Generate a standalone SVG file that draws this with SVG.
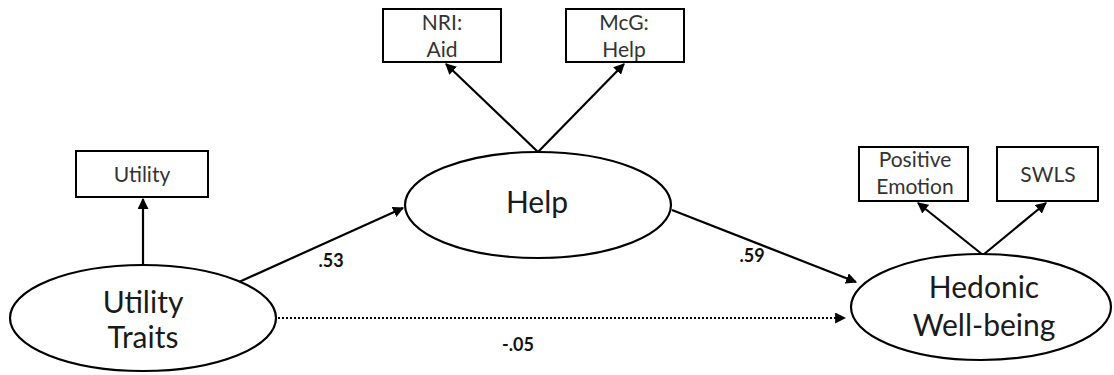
<svg xmlns="http://www.w3.org/2000/svg" width="1114" height="375" viewBox="0 0 1114 375">
<style>
.box{fill:#fff;stroke:#000;stroke-width:2}
.ell{fill:#fff;stroke:#000;stroke-width:2.2}
.ln{stroke:#000;stroke-width:2.2;fill:none}
.dot{stroke:#000;stroke-width:2.2;fill:none;stroke-dasharray:2 2}
.s{font-family:Lato,"Open Sans",sans-serif;font-size:21px;fill:#333;text-anchor:middle}
.l{font-family:Lato,"Open Sans",sans-serif;font-size:30px;fill:#1a1a1a;text-anchor:middle}
.c{font-family:Lato,"Liberation Sans",sans-serif;font-size:18px;font-weight:bold;fill:#111;text-anchor:middle}
</style>
<defs>
<marker id="ah" viewBox="0 0 10 10" refX="9" refY="5" markerWidth="5" markerHeight="5" orient="auto" markerUnits="strokeWidth">
<path d="M0,0 L10,5 L0,10 z" fill="#000"/>
</marker>
</defs>
<rect width="1114" height="375" fill="#fff"/>
<g id="connectors">
<line class="ln" x1="143" y1="265" x2="143" y2="199" marker-end="url(#ah)"/>
<line class="ln" x1="538" y1="152" x2="446" y2="64" marker-end="url(#ah)"/>
<line class="ln" x1="538" y1="152" x2="624" y2="64" marker-end="url(#ah)"/>
<line class="ln" x1="983" y1="255" x2="918" y2="203" marker-end="url(#ah)"/>
<line class="ln" x1="983" y1="255" x2="1046" y2="203" marker-end="url(#ah)"/>
<line class="ln" x1="239" y1="282" x2="403" y2="208" marker-end="url(#ah)"/>
<line class="ln" x1="672" y1="210" x2="856" y2="282" marker-end="url(#ah)"/>
<line class="dot" x1="278" y1="318" x2="845" y2="318" marker-end="url(#ah)"/>
<text class="c" x="331" y="267">.53</text>
<text class="c" x="752" y="262">.59</text>
<text class="c" x="518" y="351">-.05</text>
</g>
<g id="utility-box">
<rect class="box" x="76" y="151" width="132" height="46"/>
<text class="s" x="142" y="182">Utility</text>
</g>
<g id="utility-traits">
<ellipse class="ell" cx="143" cy="318" rx="133" ry="53"/>
<text class="l" x="143" y="313">Utility</text>
<text class="l" x="143" y="348">Traits</text>
</g>
<g id="nri-aid">
<rect class="box" x="383" y="9" width="118" height="53"/>
<text class="s" x="442" y="30">NRI:</text>
<text class="s" x="442" y="57">Aid</text>
</g>
<g id="mcg-help">
<rect class="box" x="566" y="9" width="118" height="53"/>
<text class="s" x="624" y="30">McG:</text>
<text class="s" x="624" y="57">Help</text>
</g>
<g id="help">
<ellipse class="ell" cx="538" cy="205" rx="133" ry="53"/>
<text class="l" x="537" y="213">Help</text>
</g>
<g id="positive-emotion">
<rect class="box" x="859" y="147" width="109" height="54"/>
<text class="s" x="915" y="167">Positive</text>
<text class="s" x="915" y="194">Emotion</text>
</g>
<g id="swls">
<rect class="box" x="997" y="147" width="101" height="54"/>
<text class="s" x="1048" y="182">SWLS</text>
</g>
<g id="hedonic">
<ellipse class="ell" cx="981" cy="307" rx="130" ry="53"/>
<text class="l" x="984" y="298">Hedonic</text>
<text class="l" x="984" y="336">Well-being</text>
</g>
</svg>
